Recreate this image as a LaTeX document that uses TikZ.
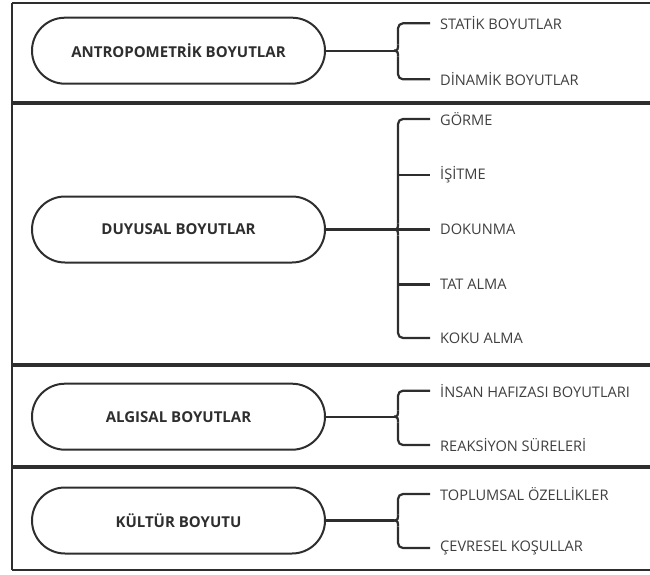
\documentclass[tikz,border=0pt]{standalone}
\usepackage{fontspec}
\setmainfont{Open Sans}
\usetikzlibrary{shapes.misc}
\definecolor{ln}{HTML}{2E2E2E}
\definecolor{lbl}{HTML}{3F3F3F}
\begin{document}
\begin{tikzpicture}[x=1pt,y=-1pt,
  pill/.style={rounded rectangle, draw=ln, line width=2pt, minimum width=293pt,
    minimum height=66pt, inner sep=0pt, text=ln, font=\bfseries\fontsize{15}{18}\selectfont},
  item/.style={anchor=west, inner sep=0pt, text=lbl, font=\fontsize{14.6}{17}\selectfont},
  conn/.style={draw=ln, line width=2.2pt},
  edge/.style={draw=ln, line width=1.8pt},
  divider/.style={draw=ln, line width=3.8pt}]
\useasboundingbox (0,0) rectangle (650,575);
% frame
\draw[edge] (12,3) -- (660,3);
\draw[edge] (12,570) -- (660,570);
\draw[edge] (12,3) -- (12,570);
\draw[divider] (12,103) -- (660,103);
\draw[divider] (12,365) -- (660,365);
\draw[divider] (12,467) -- (660,467);

% ---------- panel 1
\node[pill] (p1) at (178.5,50.7) {ANTROPOMETRİK BOYUTLAR};
\node[item] (a1) at (440,23.3) {STATİK BOYUTLAR};
\node[item] (a2) at (440,79.3) {DİNAMİK BOYUTLAR};
\coordinate (j1) at (394,50.7);
\coordinate (j1u) at (398,44.7);
\coordinate (j1d) at (398,56.7);
\draw[conn] (p1.east) -- (j1);
\draw[conn] (j1) .. controls (398,50.7) and (398,48.7) .. (j1u);
\draw[conn] (j1) .. controls (398,50.7) and (398,52.7) .. (j1d);
\draw[conn, rounded corners=5pt] (j1u) -- ([xshift=-42pt]a1.west) -- ([xshift=-10pt]a1.west);
\draw[conn, rounded corners=5pt] (j1d) -- ([xshift=-42pt]a2.west) -- ([xshift=-10pt]a2.west);

% ---------- panel 2
\node[pill] (p2) at (178.5,229.5) {DUYUSAL BOYUTLAR};
\node[item] (b1) at (440,119) {GÖRME};
\node[item] (b2) at (440,175) {İŞİTME};
\node[item] (b3) at (440,229.5) {DOKUNMA};
\node[item] (b4) at (440,284.5) {TAT ALMA};
\node[item] (b5) at (440,338) {KOKU ALMA};
\coordinate (j2) at (394,229.5);
\coordinate (j2u) at (398,223.5);
\coordinate (j2d) at (398,235.5);
\draw[conn] (p2.east) -- (j2);
\draw[conn] (j2) -- ([xshift=-10pt]b3.west);
\draw[conn] (j2) .. controls (398,229.5) and (398,227.5) .. (j2u);
\draw[conn] (j2) .. controls (398,229.5) and (398,231.5) .. (j2d);
\draw[conn, rounded corners=5pt] (j2u) -- ([xshift=-42pt]b1.west) -- ([xshift=-10pt]b1.west);
\draw[conn, rounded corners=5pt] (j2d) -- ([xshift=-42pt]b5.west) -- ([xshift=-10pt]b5.west);
\draw[conn] ([xshift=-42pt]b2.west) -- ([xshift=-10pt]b2.west);
\draw[conn] ([xshift=-42pt]b4.west) -- ([xshift=-10pt]b4.west);

% ---------- panel 3
\node[pill] (p3) at (178.5,416.7) {ALGISAL BOYUTLAR};
\node[item] (c1) at (440,390.7) {İNSAN HAFIZASI BOYUTLARI};
\node[item] (c2) at (440,445) {REAKSİYON SÜRELERİ};
\coordinate (j3) at (394,416.7);
\coordinate (j3u) at (398,410.7);
\coordinate (j3d) at (398,422.7);
\draw[conn] (p3.east) -- (j3);
\draw[conn] (j3) .. controls (398,416.7) and (398,414.7) .. (j3u);
\draw[conn] (j3) .. controls (398,416.7) and (398,418.7) .. (j3d);
\draw[conn, rounded corners=5pt] (j3u) -- ([xshift=-42pt]c1.west) -- ([xshift=-10pt]c1.west);
\draw[conn, rounded corners=5pt] (j3d) -- ([xshift=-42pt]c2.west) -- ([xshift=-10pt]c2.west);

% ---------- panel 4
\node[pill] (p4) at (178.5,520.5) {KÜLTÜR BOYUTU};
\node[item] (d1) at (440,494) {TOPLUMSAL ÖZELLİKLER};
\node[item] (d2) at (440,548) {ÇEVRESEL KOŞULLAR};
\coordinate (j4) at (394,520.5);
\coordinate (j4u) at (398,514.5);
\coordinate (j4d) at (398,526.5);
\draw[conn] (p4.east) -- (j4);
\draw[conn] (j4) .. controls (398,520.5) and (398,518.5) .. (j4u);
\draw[conn] (j4) .. controls (398,520.5) and (398,522.5) .. (j4d);
\draw[conn, rounded corners=5pt] (j4u) -- ([xshift=-42pt]d1.west) -- ([xshift=-10pt]d1.west);
\draw[conn, rounded corners=5pt] (j4d) -- ([xshift=-42pt]d2.west) -- ([xshift=-10pt]d2.west);
\end{tikzpicture}
\end{document}
